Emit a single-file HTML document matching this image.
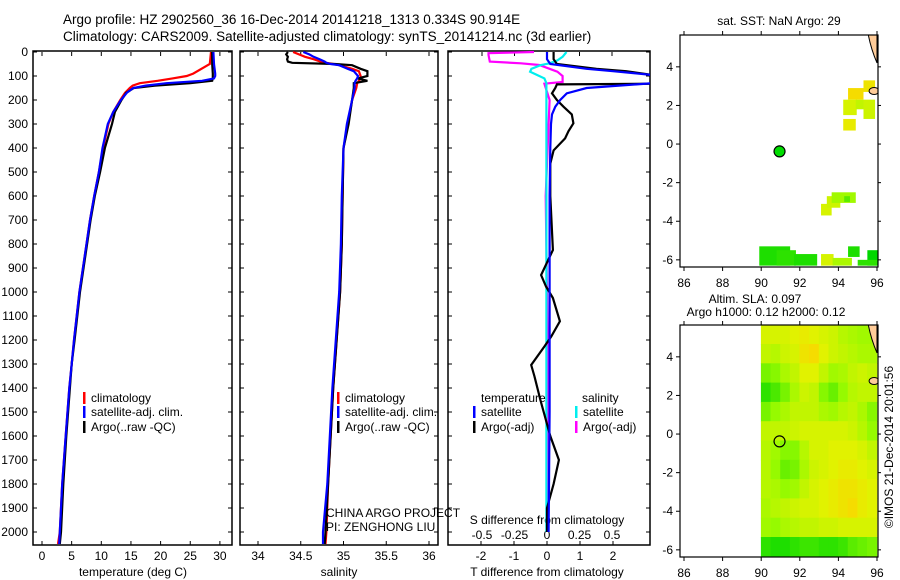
<!DOCTYPE html>
<html><head><meta charset="utf-8">
<style>
html,body{margin:0;padding:0;background:#fff;}
svg{display:block;font-family:"Liberation Sans",sans-serif;}
text{font-size:12px;fill:#000;}
</style></head>
<body>
<svg id="fig" width="900" height="580" viewBox="0 0 900 580" xmlns="http://www.w3.org/2000/svg">
<text x="63" y="24" style="font-size:13.5px">Argo profile: HZ 2902560_36 16-Dec-2014 20141218_1313 0.334S 90.914E</text>
<text x="63" y="41" style="font-size:13.5px">Climatology: CARS2009. Satellite-adjusted climatology: synTS_20141214.nc (3d earlier)</text>
<g id="layer"></g>
</svg>
<script>
// ---- profile data ----
const tDepth = [0,50,90,100,110,120,130,140,150,170,200,250,300,400,500,600,700,800,1000,1200,1300,1400,1600,1800,2000,2050];
const tArgo  = [28.7,28.7,28.8,28.8,28.8,28.7,25,19,15.5,14.2,13.4,12.3,11.8,10.6,9.8,8.9,8.2,7.6,6.4,5.5,5.0,4.7,4.1,3.6,3.2,3.0];
const tClim  = [28.5,28.3,25.5,24.4,22,19.5,16.5,15.3,14.8,14,13.2,12.0,11.2,10.3,9.6,8.8,8.1,7.5,6.3,5.4,5.0,4.6,4.0,3.4,3.0,2.7];
const tSat   = [28.9,29,29.2,29.2,29,27,21,17.5,15.4,14.3,13.3,12.0,11.1,10.2,9.6,8.8,8.1,7.5,6.3,5.4,5.0,4.6,4.0,3.4,3.0,2.9];
const sDepth = [0,10,20,30,40,45,50,55,70,80,100,110,120,130,150,200,300,400,600,800,1000,1400,1800,2000,2050];
const sArgo  = [34.35,34.33,34.35,34.34,34.35,34.4,34.9,35.1,35.2,35.28,35.28,35.17,35.28,35.12,35.12,35.1,35.06,35.0,34.99,34.98,34.96,34.88,34.82,34.79,34.78];
const sClim  = [34.41,34.48,34.55,34.65,34.73,34.8,34.88,34.95,35.1,35.18,35.2,35.2,35.18,35.16,35.15,35.1,35.05,35.0,34.99,34.98,34.96,34.88,34.82,34.8,34.79];
const sSat   = [34.53,34.6,34.65,34.72,34.78,34.8,34.85,34.95,35.05,35.12,35.17,35.16,35.14,35.13,35.13,35.1,35.04,35.0,34.98,34.97,34.95,34.87,34.81,34.76,34.76];
// differences
const dTsatDepth = [0,30,50,70,80,96,110,125,130,150,172,200,228,260,300,400,600,1000,1500,2000];
const dTsat      = [0,0,0.1,1.2,2.0,3.2,3.3,3.3,3.2,1.2,0.6,0.4,0.25,0.15,0.12,0.1,0.08,0.08,0.08,0.05];
const dTargoDepth = [0,30,50,70,80,96,110,125,132,135,150,172,200,228,260,297,330,360,410,465,600,825,929,977,1025,1122,1185,1227,1304,1352,1450,1500,1600,1700,1800,1900,2000];
const dTargo      = [0.2,0.2,0.3,1.5,2.4,3.2,3.3,3.3,3.3,0.3,0.25,0.15,0.3,0.5,0.75,0.8,0.65,0.55,0.2,0.1,0.1,0.18,-0.18,-0.03,0.18,0.39,0.13,-0.08,-0.48,-0.38,-0.2,-0.1,0.1,0.36,0.2,0,0];
const dSsatDepth = [0,20,35,47,55,70,82,95,110,130,200,600,1000,1500,2000];
const dSsat      = [0.15,0.12,0.08,0.02,-0.05,-0.12,-0.13,-0.08,-0.02,-0.005,-0.005,-0.005,-0.005,-0.005,-0.005];
const dSargoDepth = [0,5,12,40,47,54,70,82,100,125,132,200,600,1000,1500,2000];
const dSargo      = [-0.1,-0.45,-0.45,-0.44,-0.2,-0.06,0.02,0.08,0.12,0.12,-0.02,0.02,-0.01,0.0,0.01,0.0];
// axis ticks
const depthTicks = [0,100,200,300,400,500,600,700,800,900,1000,1100,1200,1300,1400,1500,1600,1700,1800,1900,2000];
const tempTicks = [0,5,10,15,20,25,30];
const salTicks = [34,34.5,35,35.5,36];
const salTickLabels = ["34","34.5","35","35.5","36"];
const tdTicks = [-2,-1,0,1,2];
const sdTicks = [-0.5,-0.25,0,0.25,0.5];
const sdTickLabels = ["-0.5","-0.25","0","0.25","0.5"];
const lonTicks = [86,88,90,92,94,96];
const latTicks = [4,2,0,-2,-4,-6];
// SST satellite cells
const sstLon = [95.3,94.5,94.25,94.9,95.3,94.25,93.1,93.4,93.65,94.3,89.9,90.8,91.7,93.1,93.7,94.5,95.5,95.0];
const sstLat = [3.3,2.9,2.3,2.3,2.3,1.3,-3.1,-2.7,-2.5,-2.7,-5.3,-5.5,-5.7,-5.7,-5.9,-5.3,-5.5,-6.0];
const sstW   = [0.6,0.8,0.7,0.4,0.6,0.65,0.55,0.7,1.25,0.3,1.6,1.0,1.2,0.65,1.0,0.6,0.55,1.0];
const sstH   = [0.6,0.6,0.8,0.5,1.0,0.6,0.6,0.6,0.55,0.3,1.0,0.8,0.6,0.6,0.4,0.55,0.8,0.3];
const sstVal = [0.95,1.0,0.8,0.7,0.75,0.9,0.8,0.75,0.55,0.3,0.1,0.15,0.1,0.8,0.6,0.1,0.0,0.15];
// SLA grid
const slaGrid = [
 [0.8,0.8,0.8,0.85,0.9,0.85,0.8,0.75,0.65,0.6,0.55,0.55],
 [0.7,0.65,0.75,0.8,0.95,1.0,0.85,0.75,0.7,0.65,0.6,0.6],
 [0.4,0.45,0.6,0.7,0.85,0.85,0.7,0.55,0.6,0.7,0.75,0.7],
 [0.15,0.25,0.4,0.6,0.75,0.7,0.45,0.35,0.5,0.65,0.7,0.7],
 [0.4,0.5,0.6,0.7,0.7,0.7,0.6,0.55,0.65,0.7,0.6,0.45],
 [0.7,0.7,0.7,0.75,0.8,0.8,0.8,0.8,0.8,0.75,0.65,0.5],
 [0.65,0.55,0.45,0.45,0.65,0.8,0.8,0.85,0.85,0.85,0.8,0.7],
 [0.65,0.5,0.35,0.4,0.6,0.75,0.8,0.85,0.9,0.9,0.85,0.8],
 [0.65,0.6,0.5,0.55,0.7,0.8,0.85,0.9,0.95,0.95,0.9,0.85],
 [0.6,0.65,0.7,0.75,0.8,0.8,0.85,0.9,0.95,1.0,0.9,0.85],
 [0.55,0.5,0.6,0.65,0.7,0.7,0.75,0.75,0.8,0.8,0.8,0.8],
 [0.15,0.1,0.1,0.15,0.2,0.2,0.15,0.15,0.2,0.3,0.35,0.4]];
const argoLon = 90.95, argoLat = -0.38;

const NS="http://www.w3.org/2000/svg";
const L=document.getElementById('layer');
function mk(tag,attrs,parent){const e=document.createElementNS(NS,tag);for(const k in attrs)e.setAttribute(k,attrs[k]);(parent||L).appendChild(e);return e;}
function txt(x,y,s,anchor,parent,extra){const e=mk('text',Object.assign({x:x,y:y,'text-anchor':anchor||'start'},extra||{}),parent);e.textContent=s;return e;}

const Y0=52, PXM=0.24, YB=545;
const yD=d=>Y0+d*PXM;
const panels={
 t:{x0:33,x1:232,sc:v=>42+v*5.93},
 s:{x0:240,x1:438,sc:v=>258+(v-34)*85.5},
 d:{x0:448,x1:650,sc:v=>547+v*33},
};
const sdX=v=>547+v*130;

function frame(p,name){
  const g=mk('g',{});
  
  
  mk('rect',{x:p.x0,y:Y0-1,width:p.x1-p.x0,height:YB-Y0+1,fill:'none',stroke:'#000','stroke-width':1.5},g);
  depthTicks.forEach(d=>{const y=yD(d);mk('line',{x1:p.x0,x2:p.x0+4,y1:y,y2:y,stroke:'#000'},g);mk('line',{x1:p.x1-4,x2:p.x1,y1:y,y2:y,stroke:'#000'},g);});
  return g;
}
function line(depths,vals,sc,color,name,clipId){
  const pts=depths.map((d,i)=>sc(vals[i]).toFixed(1)+','+yD(d).toFixed(1)).join(' ');
  const e=mk('polyline',{points:pts,fill:'none',stroke:color,'stroke-width':2.2,'clip-path':'url(#'+clipId+')'});
  
  
}
const defs=mk('defs',{});
['t','s','d'].forEach(k=>{const p=panels[k];const c=mk('clipPath',{id:'clip'+k},defs);mk('rect',{x:p.x0,y:Y0-1,width:p.x1-p.x0,height:YB-Y0+1},c);});

frame(panels.t,'temperature-panel');
depthTicks.forEach(d=>{const t=txt(28,yD(d)+4,String(d),'end');});
tempTicks.forEach(v=>{const x=panels.t.sc(v);mk('line',{x1:x,x2:x,y1:YB,y2:YB-4,stroke:'#000'});mk('line',{x1:x,x2:x,y1:Y0,y2:Y0+4,stroke:'#000'});const t=txt(x,560,String(v),'middle');});
const xt1=txt(133,576,'temperature (deg C)','middle');
line(tDepth,tClim,panels.t.sc,'#f00','temp-climatology-line','clipt');
line(tDepth,tArgo,panels.t.sc,'#000','temp-argo-line','clipt');
line(tDepth,tSat,panels.t.sc,'#00f','temp-satellite-line','clipt');

frame(panels.s,'salinity-panel');
salTicks.forEach((v,i)=>{const x=panels.s.sc(v);mk('line',{x1:x,x2:x,y1:YB,y2:YB-4,stroke:'#000'});mk('line',{x1:x,x2:x,y1:Y0,y2:Y0+4,stroke:'#000'});const t=txt(x,560,salTickLabels[i],'middle');});
const xt2=txt(339,576,'salinity','middle');
line(sDepth,sClim,panels.s.sc,'#f00','sal-climatology-line','clips');
line(sDepth,sArgo,panels.s.sc,'#000','sal-argo-line','clips');
line(sDepth,sSat,panels.s.sc,'#00f','sal-satellite-line','clips');

frame(panels.d,'difference-panel');
tdTicks.forEach(v=>{const x=panels.d.sc(v);mk('line',{x1:x,x2:x,y1:YB,y2:YB-4,stroke:'#000'});const t=txt(x,560,String(v),'middle');});
sdTicks.forEach((v,i)=>{const x=sdX(v);mk('line',{x1:x,x2:x,y1:Y0,y2:Y0+4,stroke:'#000'});const t=txt(x,539,sdTickLabels[i],'middle');});
const xt3=txt(547,576,'T difference from climatology','middle');
const st3=txt(547,524,'S difference from climatology','middle');
line(dSargoDepth,dSargo,sdX,'#f0f','s-diff-argo-line','clipd');
line(dSsatDepth,dSsat,sdX,'#0ee','s-diff-satellite-line','clipd');
line(dTargoDepth,dTargo,panels.d.sc,'#000','t-diff-argo-line','clipd');
line(dTsatDepth,dTsat,panels.d.sc,'#00f','t-diff-satellite-line','clipd');

function leg(x,y,color,label,name){const g=mk('g',{});mk('rect',{x:x,y:y-10,width:2.5,height:12,fill:color},g);txt(x+8,y,label,'start',g);}
leg(83,402,'#f00','climatology','legend-entry-climatology');
leg(83,416,'#00f','satellite-adj. clim.','legend-entry-satellite');
leg(83,431,'#000','Argo(..raw -QC)','legend-entry-argo');
leg(337,402,'#f00','climatology','legend-entry-climatology');
leg(337,416,'#00f','satellite-adj. clim.','legend-entry-satellite');
leg(337,431,'#000','Argo(..raw -QC)','legend-entry-argo');
const lt=txt(481,402,'temperature');
const ls=txt(582,402,'salinity');
leg(473,416,'#00f','satellite','legend-entry-t-satellite');
leg(473,431,'#000','Argo(-adj)','legend-entry-t-argo');
leg(575,416,'#0ee','satellite','legend-entry-s-satellite');
leg(575,431,'#f0f','Argo(-adj)','legend-entry-s-argo');
const c1=txt(326,517,'CHINA ARGO PROJECT');
const c2=txt(326,531,'PI: ZENGHONG LIU');

const MX0=680,MX1=878,PXD=19.3;
const lonX=lon=>684+(lon-86)*PXD;
function colorOf(v){
  const stops=[[0,[0,215,0]],[0.5,[150,250,0]],[0.85,[225,242,0]],[1,[245,220,0]]];
  for(let i=1;i<stops.length;i++){if(v<=stops[i][0]){const a=stops[i-1],b=stops[i];const f=(v-a[0])/(b[0]-a[0]);return 'rgb('+a[1].map((c,j)=>Math.round(c+(b[1][j]-c)*f)).join(',')+')';}}
  return 'rgb(245,220,0)';
}
function mapFrame(top,name){
  const latY=lat=>top+(5.65-lat)*PXD;
  const g=mk('g',{});
  const cid='clip'+name;const c=mk('clipPath',{id:cid},defs);mk('rect',{x:MX0,y:top,width:MX1-MX0,height:232},c);
  return {g:g,latY:latY,cid:cid,top:top};
}
function mapAxes(m,name){
  mk('rect',{x:MX0,y:m.top,width:MX1-MX0,height:232,fill:'none',stroke:'#000','stroke-width':1.2});
  lonTicks.forEach(v=>{const x=lonX(v);mk('line',{x1:x,x2:x,y1:m.top+232,y2:m.top+236,stroke:'#000'});mk('line',{x1:x,x2:x,y1:m.top,y2:m.top-4,stroke:'#000'});const t=txt(x,m.top+252,String(v),'middle');});
  latTicks.forEach(v=>{const y=m.latY(v);mk('line',{x1:MX0,x2:MX0-4,y1:y,y2:y,stroke:'#000'});mk('line',{x1:MX1,x2:MX1+3,y1:y,y2:y,stroke:'#000'});const t=txt(MX0-7,y+4,String(v),'end');});
}
function land(m){
  const y=m.latY;
  const p=mk('path',{d:'M'+lonX(95.55)+','+y(5.65)+' Q'+lonX(95.7)+','+y(4.9)+' '+lonX(96)+','+y(4.2)+' L'+lonX(96)+','+y(5.65)+' Z',fill:'#ffcc99',stroke:'#000','stroke-width':1,'clip-path':'url(#'+m.cid+')'});
  
  const q=mk('ellipse',{cx:lonX(95.85),cy:y(2.75),rx:5,ry:3.5,fill:'#ffcc99',stroke:'#000','stroke-width':1,'clip-path':'url(#'+m.cid+')'});
  
}
const m1=mapFrame(35,'sst-map');
const h1=txt(779,25,'sat. SST: NaN Argo: 29','middle');
sstLon.forEach((lon,i)=>{const r=mk('rect',{x:lonX(lon),y:m1.latY(sstLat[i]),width:sstW[i]*PXD,height:sstH[i]*PXD,fill:colorOf(sstVal[i]),'clip-path':'url(#'+m1.cid+')'});
  });
land(m1);
mapAxes(m1,'sst-map');
const pt1=mk('circle',{cx:lonX(argoLon),cy:m1.latY(argoLat),r:5.5,fill:'#00dd00',stroke:'#000','stroke-width':1.2});

const m2=mapFrame(325,'sla-map');
const h2=txt(755,303,'Altim. SLA: 0.097','middle');
const h3=txt(766,316,'Argo h1000: 0.12 h2000: 0.12','middle');
slaGrid.forEach((row,ri)=>row.forEach((v,ci)=>{
  const r=mk('rect',{x:lonX(90+ci*0.5)-0.3,y:m2.latY(5.65-ri)-0.3,width:0.5*PXD+0.6,height:PXD+0.6,fill:colorOf(v),'clip-path':'url(#'+m2.cid+')'});
  
}));
land(m2);
mapAxes(m2,'sla-map');
const pt2=mk('circle',{cx:lonX(argoLon),cy:m2.latY(argoLat),r:5.5,fill:'none',stroke:'#000','stroke-width':1.2});

const cr=txt(0,0,'©IMOS 21-Dec-2014 20:01:56','middle',null,{transform:'translate(893,447) rotate(-90)'});

</script>
</body></html>
